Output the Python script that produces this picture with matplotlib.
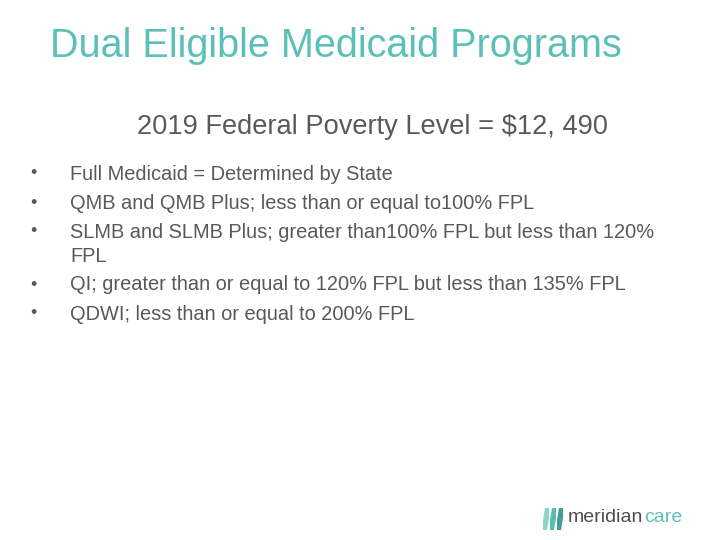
import matplotlib.pyplot as plt

plt.rcParams['font.family'] = ['Liberation Sans', 'DejaVu Sans']

titulo = "Dual Eligible Medicaid Programs"
subtitulo = "2019 Federal Poverty Level = $12, 490"
vinetas = [
    ["Full Medicaid = Determined by State"],
    ["QMB and QMB Plus; less than or equal to100% FPL"],
    ["SLMB and SLMB Plus; greater than100% FPL but less than 120%", "FPL"],
    ["QI; greater than or equal to 120% FPL but less than 135% FPL"],
    ["QDWI; less than or equal to 200% FPL"],
]

fig = plt.figure(figsize=(7.2, 5.4), dpi=100)
W, H = 720, 540

def px(x, y):
    return x / W, 1 - y / H

teal = '#5cc0b8'
gris = '#595959'

fig.text(*px(50, 46), titulo, fontsize=28.5, color=teal, va='center', ha='left')
fig.text(*px(137, 127), subtitulo, fontsize=19.6, color=gris, va='center', ha='left')

y = 174
for item in vinetas:
    fig.text(*px(30, y), '•', fontsize=13, color=gris, va='center')
    for j, linea in enumerate(item):
        fig.text(*px(70, y + 24 * j), linea, fontsize=14.4, color=gris, va='center')
    y += 29 + 24 * (len(item) - 1)

# logo
for i in range(3):
    x0 = 543 + i * 7
    ax_l = fig.add_axes([x0 / W, 1 - 530 / H, 6 / W, 22 / H])
    ax_l.axis('off')
    ax_l.plot([0.2, 0.8], [0, 1], color=['#8fd3cc', '#5cbcb4', '#3e9f9a'][i], lw=4, solid_capstyle='round')
    ax_l.set_xlim(0, 1)
    ax_l.set_ylim(0, 1)
t1 = fig.text(*px(568, 518), 'meridian', fontsize=14, color='#4d4d4d', va='center')
fig.canvas.draw()
bb = t1.get_window_extent()
fig.text((bb.x1 + 1) / W, 1 - 518 / H, 'care', fontsize=14, color=teal, va='center')

fig.savefig('out.png', dpi=100)
